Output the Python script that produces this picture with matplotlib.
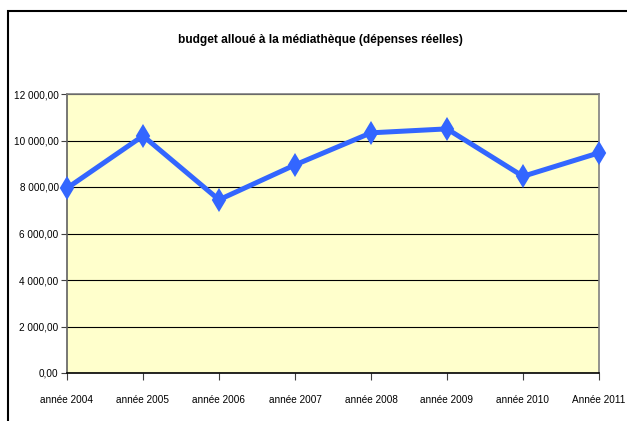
import matplotlib
matplotlib.use("Agg")
import matplotlib.pyplot as plt
from matplotlib.patches import Rectangle
from matplotlib.ticker import FuncFormatter

categories = ["année 2004", "année 2005", "année 2006", "année 2007",
              "année 2008", "année 2009", "année 2010", "Année 2011"]
values = [7950, 10200, 7450, 8950, 10330, 10500, 8460, 9470]
yticks = [0, 2000, 4000, 6000, 8000, 10000, 12000]
title = "budget alloué à la médiathèque (dépenses réelles)"

plt.rcParams['font.family'] = ['Liberation Sans Narrow', 'Liberation Sans', 'DejaVu Sans']

W, H = 627, 421
fig = plt.figure(figsize=(W/100, H/100), dpi=100)
fig.patch.set_facecolor("white")

# outer frame
fig.patches.append(Rectangle((8/W, -0.1), 1.2, 1 - 11/H + 0.1, transform=fig.transFigure,
                             fill=False, edgecolor="black", linewidth=1.5, zorder=0))

left, right, top, bottom = 67, 599, 94, 373
ax = fig.add_axes([left/W, 1 - bottom/H, (right-left)/W, (bottom-top)/H])
ax.set_facecolor("#FFFFCC")

x = list(range(len(categories)))
ax.plot(x, values, color="#3366FF", linewidth=3.6, marker="d", markersize=10,
        markeredgewidth=1.5, markeredgecolor="#3366FF", markerfacecolor="#3366FF",
        clip_on=False, zorder=5)

ax.set_xlim(0, len(categories) - 1)
ax.set_ylim(0, 12000)
ax.set_xticks(x)
ax.set_xticklabels(categories)
ax.set_yticks(yticks)

def fmt(v, pos):
    s = f"{int(round(v)):,}".replace(",", " ")
    return s + ",00"
ax.yaxis.set_major_formatter(FuncFormatter(fmt))
ax.tick_params(axis="y", labelsize=7.2, length=4, color="#404040", pad=2)
ax.tick_params(axis="x", labelsize=7.2, length=5, color="#404040", pad=11)

ax.grid(axis="y", color="black", linewidth=0.8)
ax.set_axisbelow(True)
for s in ["top", "right"]:
    ax.spines[s].set_color("#808080")
    ax.spines[s].set_linewidth(1.2)
ax.spines["left"].set_color("#606060")
ax.spines["left"].set_linewidth(1.2)
ax.spines["bottom"].set_color("black")
ax.spines["bottom"].set_linewidth(1.2)

fig.text((177 + 464) / 2 / W, 1 - 40/H, title, ha="center", va="center",
         fontsize=8.6, fontweight="bold")

fig.savefig("out.png", dpi=100)
